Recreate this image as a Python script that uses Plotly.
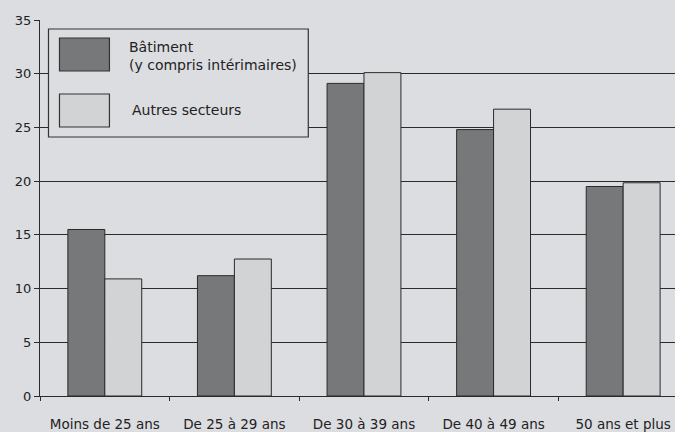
import plotly.graph_objects as go

categories = ["Moins de 25 ans", "De 25 à 29 ans", "De 30 à 39 ans", "De 40 à 49 ans", "50 ans et plus"]
series_names = ["Bâtiment<br>(y compris intérimaires)", "Autres secteurs"]
batiment = [15.5, 11.2, 29.1, 24.8, 19.5]
autres = [10.9, 12.75, 30.1, 26.7, 19.85]
y_ticks = [0, 5, 10, 15, 20, 25, 30, 35]

BG = "#dcdde0"
DARK = "#777879"
LIGHT = "#d2d3d5"
LINE = "#2a2a2a"
FONT = "DejaVu Sans"

fig = go.Figure()
fig.add_trace(go.Bar(x=categories, y=batiment, name=series_names[0],
                     marker=dict(color=DARK, line=dict(color=LINE, width=1)), showlegend=False))
fig.add_trace(go.Bar(x=categories, y=autres, name=series_names[1],
                     marker=dict(color=LIGHT, line=dict(color=LINE, width=1)), showlegend=False))

W, H = 675, 432
L, R, T, B = 39.5, 0, 20, 36
pw, ph = W - L - R, H - T - B

def px(x):
    return (x - L) / pw

def py(y):
    return (H - B - y) / ph

# custom legend box
fig.add_shape(type="rect", xref="paper", yref="paper",
              x0=px(48), x1=px(308), y0=py(137), y1=py(29),
              fillcolor=BG, line=dict(color="#333333", width=1.2), layer="above")
fig.add_shape(type="rect", xref="paper", yref="paper",
              x0=px(59), x1=px(109), y0=py(71), y1=py(38),
              fillcolor=DARK, line=dict(color="#333333", width=1.2), layer="above")
fig.add_shape(type="rect", xref="paper", yref="paper",
              x0=px(59), x1=px(109), y0=py(127), y1=py(94),
              fillcolor=LIGHT, line=dict(color="#333333", width=1.2), layer="above")
fig.add_annotation(xref="paper", yref="paper", x=px(127), y=py(56), text=series_names[0],
                   showarrow=False, xanchor="left", yanchor="middle", align="left",
                   font=dict(family=FONT, size=14, color="#222222"))
fig.add_annotation(xref="paper", yref="paper", x=px(130), y=py(110), text=series_names[1],
                   showarrow=False, xanchor="left", yanchor="middle", align="left",
                   font=dict(family=FONT, size=14, color="#222222"))

fig.update_layout(
    width=W, height=H,
    margin=dict(l=L, r=R, t=T, b=B, pad=0),
    paper_bgcolor=BG, plot_bgcolor=BG,
    barmode="group", bargap=0.43, bargroupgap=0,
    font=dict(family=FONT, size=13.5, color="#222222"),
    xaxis=dict(range=[-0.5, 4.40], showgrid=False, showline=True, linecolor=LINE, linewidth=1,
               ticks="outside", tickson="boundaries", ticklen=4, tickcolor=LINE,
               ticklabelstandoff=16, tickfont=dict(family=FONT, size=13.5, color="#222222")),
    yaxis=dict(range=[0, 35], tickvals=y_ticks, showgrid=True, gridcolor=LINE, gridwidth=1,
               showline=True, linecolor=LINE, linewidth=1, ticks="outside", ticklen=5,
               tickcolor=LINE, zeroline=False,
               tickfont=dict(family=FONT, size=13, color="#222222")),
)

fig.write_html(
    "out.html",
    config={"displayModeBar": False},
    post_script="document.body.style.margin='0px';document.body.style.overflow='hidden';",
)
